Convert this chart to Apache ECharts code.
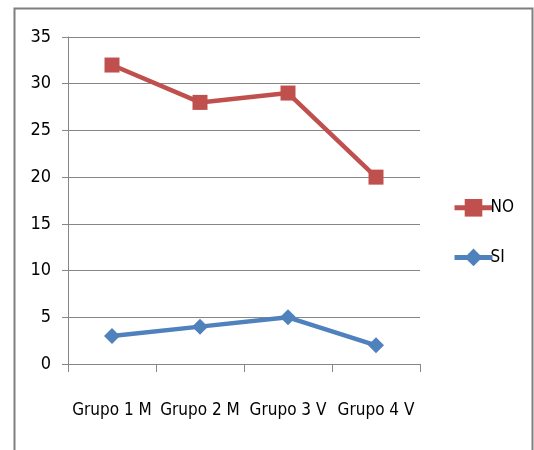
<!DOCTYPE html>
<html><head><meta charset="utf-8">
<script src="https://cdn.jsdelivr.net/npm/echarts@6/dist/echarts.min.js"></script>
<style>html,body{margin:0;padding:0;background:#fff}#c{width:534px;height:450px}</style>
</head><body><div id="c"></div>
<script>
const categories = ['Grupo 1 M', 'Grupo 2 M', 'Grupo 3 V', 'Grupo 4 V'];
const noValues = [32, 28, 29, 20];
const siValues = [3, 4, 5, 2];
const yTicks = [0, 5, 10, 15, 20, 25, 30, 35];

const font = "'DejaVu Sans Condensed', 'Liberation Sans', sans-serif";
const chart = echarts.init(document.getElementById('c'));
chart.setOption({
  animation: false,
  backgroundColor: '#fff',
  graphic: [{
    type: 'rect', left: 12, top: 6, z: -1,
    shape: { width: 518, height: 470 },
    style: { fill: 'none', stroke: '#7f7f7f', lineWidth: 2 }
  }],
  grid: { left: 68, top: 37, right: 114, bottom: 86 },
  legend: {
    orient: 'vertical', left: 447, top: 194, itemGap: 32,
    itemWidth: 38, itemHeight: 22,
    lineStyle: { width: 5 },
    textStyle: { fontFamily: font, fontSize: 17, color: '#000', padding: [0, 0, 0, -7] },
    data: ['NO', 'SI']
  },
  xAxis: {
    type: 'category', data: categories, boundaryGap: true,
    axisLine: { lineStyle: { color: '#868686', width: 1 } },
    axisTick: { show: true, length: 8, lineStyle: { color: '#868686' } },
    axisLabel: { fontFamily: font, fontSize: 17, color: '#000', margin: 38, interval: 0 }
  },
  yAxis: {
    type: 'value', min: yTicks[0], max: yTicks[yTicks.length - 1], interval: 5,
    axisLine: { show: true, lineStyle: { color: '#868686', width: 1 } },
    axisTick: { show: true, length: 6, lineStyle: { color: '#868686' } },
    splitLine: { lineStyle: { color: '#868686', width: 1 } },
    axisLabel: { fontFamily: font, fontSize: 18, color: '#000', margin: 17 }
  },
  series: [
    {
      name: 'NO', type: 'line', data: noValues,
      symbol: 'rect', symbolSize: 15,
      lineStyle: { color: '#C0504D', width: 4.5 },
      itemStyle: { color: '#C0504D' }
    },
    {
      name: 'SI', type: 'line', data: siValues,
      symbol: 'diamond', symbolSize: 16,
      lineStyle: { color: '#4F81BD', width: 4.5 },
      itemStyle: { color: '#4F81BD' }
    }
  ]
});
</script></body></html>
